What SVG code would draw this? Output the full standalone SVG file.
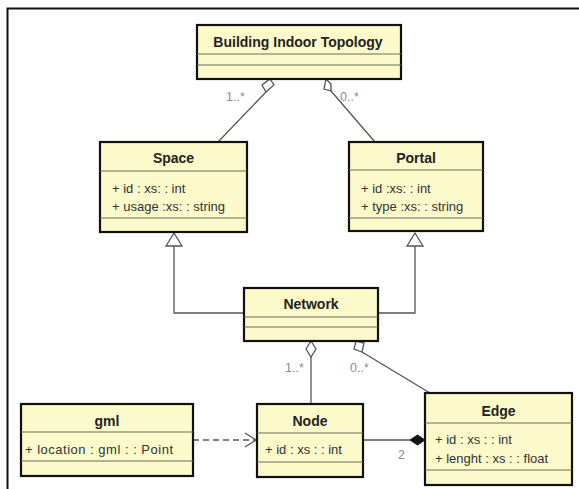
<svg xmlns="http://www.w3.org/2000/svg" width="579" height="489" viewBox="0 0 579 489">
  <style>
    .box { fill: #fcfacb; stroke: #111; stroke-width: 2.2; }
    .div { stroke: #6a6a5a; stroke-width: 1.2; }
    .title { font-family: "Liberation Sans", Arial, sans-serif; font-size: 14px; font-weight: bold; fill: #222; text-anchor: middle; }
    .attr { font-family: "Liberation Sans", Arial, sans-serif; font-size: 13px; fill: #333; }
    .mult { font-family: "Liberation Sans", Arial, sans-serif; font-size: 12.5px; fill: #8c8c8c; }
    .ln { stroke: #555; stroke-width: 1.3; fill: none; }
    .hollow { fill: #fff; stroke: #555; stroke-width: 1.3; }
    .solid { fill: #111; stroke: #111; stroke-width: 1; }
  </style>
  <rect width="579" height="489" fill="#fff"/>
  <!-- outer frame (top and left edges) -->
  <path d="M7.5 489 V8.5 H579" fill="none" stroke="#111" stroke-width="2"/>

  <g id="connectors">
    <!-- aggregations from Building Indoor Topology -->
    <line class="ln" x1="266" y1="92" x2="218" y2="142"/>
    <polygon class="hollow" points="270,79 274,85 266,92 262,85"/>
    <line class="ln" x1="331" y1="91" x2="375" y2="142"/>
    <polygon class="hollow" points="326,79 331,84 331,91 324,89"/>
    <!-- generalizations to Space and Portal -->
    <polyline class="ln" points="244,313 174,313 174,246"/>
    <polygon class="hollow" points="174,233 182,246 166,246"/>
    <polyline class="ln" points="378,313 415,313 415,246"/>
    <polygon class="hollow" points="415,233 423,246 407,246"/>
    <!-- Network to Node aggregation -->
    <line class="ln" x1="311" y1="357" x2="311" y2="404"/>
    <polygon class="hollow" points="311,341 316,349 311,357 306,349"/>
    <!-- Network to Edge aggregation -->
    <line class="ln" x1="362" y1="352" x2="430" y2="393"/>
    <polygon class="hollow" points="356,341 364,343 362,352 354,349"/>
    <!-- dependency gml to Node -->
    <line class="ln" x1="193" y1="440" x2="256" y2="440" stroke-dasharray="6,4"/>
    <polyline class="ln" points="245,433 256,440 245,447"/>
    <!-- composition Node to Edge -->
    <line class="ln" x1="363" y1="440" x2="410" y2="440"/>
    <polygon class="solid" points="425,440 417.5,445 410,440 417.5,435"/>
    <!-- multiplicities -->
    <text class="mult" x="226" y="101">1..*</text>
    <text class="mult" x="340" y="101">0..*</text>
    <text class="mult" x="285" y="372">1..*</text>
    <text class="mult" x="350" y="372">0..*</text>
    <text class="mult" x="398" y="459" font-size="14">2</text>
  </g>

  <g id="building-indoor-topology">
    <rect class="box" x="197" y="25" width="204" height="54"/>
    <line class="div" x1="197" y1="54" x2="401" y2="54"/>
    <line class="div" x1="197" y1="65" x2="401" y2="65"/>
    <text class="title" x="298" y="47">Building Indoor Topology</text>
  </g>

  <g id="space">
    <rect class="box" x="100" y="142" width="147" height="90"/>
    <line class="div" x1="100" y1="171" x2="247" y2="171"/>
    <line class="div" x1="100" y1="218" x2="247" y2="218"/>
    <text class="title" x="173.5" y="163">Space</text>
    <text class="attr" x="112" y="193">+ id : xs: : int</text>
    <text class="attr" x="112" y="211">+ usage :xs: : string</text>
  </g>

  <g id="portal">
    <rect class="box" x="349" y="142" width="134" height="89"/>
    <line class="div" x1="349" y1="170" x2="483" y2="170"/>
    <line class="div" x1="349" y1="218" x2="483" y2="218"/>
    <text class="title" x="416" y="163">Portal</text>
    <text class="attr" x="361" y="193">+ id :xs: : int</text>
    <text class="attr" x="361" y="211">+ type :xs: : string</text>
  </g>

  <g id="network">
    <rect class="box" x="244" y="288" width="134" height="53"/>
    <line class="div" x1="244" y1="317" x2="378" y2="317"/>
    <line class="div" x1="244" y1="327" x2="378" y2="327"/>
    <text class="title" x="311" y="309">Network</text>
  </g>

  <g id="gml">
    <rect class="box" x="21" y="404" width="172" height="72"/>
    <line class="div" x1="21" y1="432" x2="193" y2="432"/>
    <line class="div" x1="21" y1="461" x2="193" y2="461"/>
    <text class="title" x="107" y="426">gml</text>
    <text class="attr" x="25" y="454" textLength="148">+ location : gml : : Point</text>
  </g>

  <g id="node">
    <rect class="box" x="257" y="404" width="106" height="73"/>
    <line class="div" x1="257" y1="433" x2="363" y2="433"/>
    <line class="div" x1="257" y1="462" x2="363" y2="462"/>
    <text class="title" x="310" y="426">Node</text>
    <text class="attr" x="265" y="454">+ id : xs : : int</text>
  </g>

  <g id="edge">
    <rect class="box" x="425" y="393" width="147" height="92"/>
    <line class="div" x1="425" y1="423" x2="572" y2="423"/>
    <line class="div" x1="425" y1="470" x2="572" y2="470"/>
    <text class="title" x="498.5" y="416">Edge</text>
    <text class="attr" x="435" y="444">+ id : xs : : int</text>
    <text class="attr" x="435" y="463">+ lenght : xs : : float</text>
  </g>
</svg>
